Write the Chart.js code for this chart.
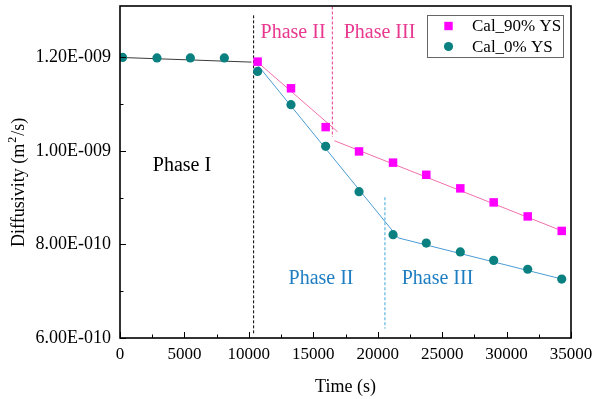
<!DOCTYPE html>
<html><head><meta charset="utf-8">
<script src="https://cdn.jsdelivr.net/npm/chart.js@4.4.0/dist/chart.umd.min.js"></script>
<style>html,body{margin:0;padding:0;background:#fff}#wrap{width:594px;height:399px}</style>
</head><body><div id="wrap"><canvas id="c" width="594" height="399"></canvas></div>
<script>
// ---- data ----
const time0 = [200, 2870, 5460, 8100, 10680, 13270, 15960, 18550, 21190, 23770, 26410, 29000, 31640, 34280];
const diff0 = [1.200e-9, 1.199e-9, 1.199e-9, 1.199e-9, 1.170e-9, 1.099e-9, 1.010e-9, 0.913e-9, 8.21e-10, 8.03e-10, 7.84e-10, 7.66e-10, 7.47e-10, 7.26e-10];
const time90 = [10680, 13270, 15960, 18550, 21190, 23770, 26410, 29000, 31640, 34280];
const diff90 = [1.191e-9, 1.134e-9, 1.051e-9, 0.999e-9, 9.75e-10, 9.49e-10, 9.20e-10, 8.90e-10, 8.60e-10, 8.29e-10];

const fitPhaseIx = [0, 10200],      fitPhaseIy = [1.200e-9, 1.190e-9];
const fit90IIx = [10630, 16890],    fit90IIy = [1.191e-9, 1.041e-9];
const fit90IIIx = [16630, 34400],   fit90IIIy = [1.022e-9, 8.28e-10];
const fit0IIx = [10500, 21600],     fit0IIy = [1.190e-9, 8.14e-10];
const fit0IIIx = [21600, 34300],    fit0IIIy = [8.14e-10, 7.26e-10];

const divBlackX = [10370, 10370],   divBlackY = [1.29e-9, 6.1e-10];
const div90X = [16480, 16480],      div90Y = [1.309e-9, 1.030e-9];
const div0X = [20560, 20560],       div0Y = [9.01e-10, 6.2e-10];

const xTicks = [0, 5000, 10000, 15000, 20000, 25000, 30000, 35000];
const xMinor = [2500, 7500, 12500, 17500, 22500, 27500, 32500];
const yTicks = [6e-10, 8e-10, 1.0e-9, 1.2e-9];
const yMinor = [7e-10, 9e-10, 1.1e-9];

const phaseText = ['Phase I', 'Phase II', 'Phase III', 'Phase II', 'Phase III'];
const phaseTextX = [4810, 13430, 20140, 15600, 24640];
const phaseTextY = [9.69e-10, 1.253e-9, 1.253e-9, 7.26e-10, 7.26e-10];
const phaseTextColor = ['#000000', '#e8388f', '#e8388f', '#1f7ec2', '#1f7ec2'];

const seriesNames = ['Cal_90% YS', 'Cal_0% YS'];
const yTitleParts = ['Diffusivity (m', '2', '/s)'];

// ---- helpers ----
const pts = (xs, ys) => xs.map((x, i) => ({x: x, y: ys[i]}));
const FONT = "'Liberation Serif', 'Times New Roman', serif";
function fmtY(v) {
  const s = Number(v).toExponential(2);
  const m = s.split('e');
  const e = parseInt(m[1], 10);
  const sign = e < 0 ? '-' : '+';
  return m[0] + 'E' + sign + String(Math.abs(e)).padStart(3, '0');
}
function lineDs(xs, ys, color, dash, width) {
  return {type: 'line', data: pts(xs, ys), borderColor: color, borderWidth: width || 1,
          borderDash: dash || [], pointRadius: 0, showLine: true, fill: false, order: 5};
}

const datasets = [
  {label: seriesNames[0], data: pts(time90, diff90), pointStyle: 'rect', pointRadius: 6,
   backgroundColor: '#ff00ff', borderColor: '#ff00ff', borderWidth: 0, showLine: false, order: 2},
  {label: seriesNames[1], data: pts(time0, diff0), pointStyle: 'circle', pointRadius: 4.6,
   backgroundColor: '#0a8080', borderColor: '#0a8080', borderWidth: 0, showLine: false, order: 1},
  lineDs(fitPhaseIx, fitPhaseIy, '#3a3a3a'),
  lineDs(fit90IIx, fit90IIy, '#f070aa'),
  lineDs(fit90IIIx, fit90IIIy, '#f070aa'),
  lineDs(fit0IIx, fit0IIy, '#4b9bd2'),
  lineDs(fit0IIIx, fit0IIIy, '#4b9bd2'),
  lineDs(divBlackX, divBlackY, '#000000', [3, 2], 1),
  lineDs(div90X, div90Y, '#e8388f', [3, 2], 1),
  lineDs(div0X, div0Y, '#3aa8dc', [3, 2], 1)
];

const decor = {
  id: 'decor',
  afterDraw(chart) {
    const ctx = chart.ctx, a = chart.chartArea;
    const xs = chart.scales.x, ys = chart.scales.y;
    ctx.save();
    ctx.strokeStyle = '#000'; ctx.lineWidth = 1;
    ctx.beginPath();
    xTicks.forEach(v => { const p = Math.round(xs.getPixelForValue(v)) + 0.5; ctx.moveTo(p, a.bottom); ctx.lineTo(p, a.bottom - 6); });
    xMinor.forEach(v => { const p = Math.round(xs.getPixelForValue(v)) + 0.5; ctx.moveTo(p, a.bottom); ctx.lineTo(p, a.bottom - 3.5); });
    yTicks.forEach(v => { const p = Math.round(ys.getPixelForValue(v)) + 0.5; ctx.moveTo(a.left, p); ctx.lineTo(a.left + 6, p); });
    yMinor.forEach(v => { const p = Math.round(ys.getPixelForValue(v)) + 0.5; ctx.moveTo(a.left, p); ctx.lineTo(a.left + 3.5, p); });
    ctx.stroke();
    ctx.lineWidth = 1.6;
    ctx.strokeRect(a.left, a.top, a.right - a.left, a.bottom - a.top);
    // phase labels
    ctx.font = '20px ' + FONT;
    ctx.textAlign = 'center'; ctx.textBaseline = 'middle';
    phaseText.forEach((t, i) => {
      ctx.fillStyle = phaseTextColor[i];
      ctx.fillText(t, xs.getPixelForValue(phaseTextX[i]), ys.getPixelForValue(phaseTextY[i]));
    });
    // y axis title with superscript
    ctx.save();
    ctx.translate(24, 247);
    ctx.rotate(-Math.PI / 2);
    ctx.fillStyle = '#000';
    ctx.textAlign = 'left'; ctx.textBaseline = 'alphabetic';
    let px = 0;
    ctx.font = '18px ' + FONT; ctx.fillText(yTitleParts[0], px, 0); px += ctx.measureText(yTitleParts[0]).width + 1;
    ctx.font = '12px ' + FONT; ctx.fillText(yTitleParts[1], px, -8); px += ctx.measureText(yTitleParts[1]).width + 1;
    ctx.font = '18px ' + FONT; ctx.fillText(yTitleParts[2], px, 0);
    ctx.restore();
    // legend
    const lx = 427, ly = 15, lw = 136, lh = 42;
    ctx.fillStyle = '#fff';
    ctx.fillRect(lx, ly, lw, lh);
    ctx.strokeStyle = '#666'; ctx.lineWidth = 1;
    ctx.strokeRect(lx + 0.5, ly + 0.5, lw, lh);
    const rows = [ly + 11, ly + 31.5];
    [0, 1].forEach(i => {
      const ds = chart.data.datasets[i];
      ctx.fillStyle = ds.backgroundColor;
      if (ds.pointStyle === 'rect') {
        ctx.fillRect(448.5 - 4.2, rows[i] - 4.2, 8.4, 8.4);
      } else {
        ctx.beginPath(); ctx.arc(448.5, rows[i], 4.6, 0, Math.PI * 2); ctx.fill();
      }
      ctx.fillStyle = '#000';
      ctx.font = '17px ' + FONT;
      ctx.textAlign = 'left'; ctx.textBaseline = 'middle';
      ctx.fillText(ds.label, 472, rows[i] + 1);
    });
    ctx.restore();
  }
};

new Chart(document.getElementById('c'), {
  type: 'scatter',
  data: {datasets: datasets},
  options: {
    responsive: false,
    animation: false,
    layout: {padding: {top: 6, right: 23, left: 0, bottom: 0}},
    plugins: {legend: {display: false}, tooltip: {enabled: false}},
    scales: {
      x: {
        type: 'linear', min: 0, max: 35000,
        afterBuildTicks: s => { s.ticks = xTicks.map(v => ({value: v})); },
        afterFit: s => { s.height = 61; s.paddingLeft = 0; s.paddingRight = 0; },
        grid: {display: false, drawTicks: false},
        border: {display: false},
        ticks: {color: '#000', font: {family: FONT, size: 17}, padding: 6, maxRotation: 0,
                callback: v => String(v)},
        title: {display: true, text: 'Time (s)', color: '#000', font: {family: FONT, size: 18},
                padding: {top: 0, bottom: 1}}
      },
      y: {
        type: 'linear', min: 6e-10, max: 1.31e-9,
        afterBuildTicks: s => { s.ticks = yTicks.map(v => ({value: v})); },
        afterFit: s => { s.width = 120; s.paddingTop = 0; s.paddingBottom = 0; },
        grid: {display: false, drawTicks: false},
        border: {display: false},
        ticks: {color: '#000', font: {family: FONT, size: 18}, padding: 9, callback: v => fmtY(v)},
        title: {display: false}
      }
    }
  },
  plugins: [decor]
});
</script>
</body></html>
